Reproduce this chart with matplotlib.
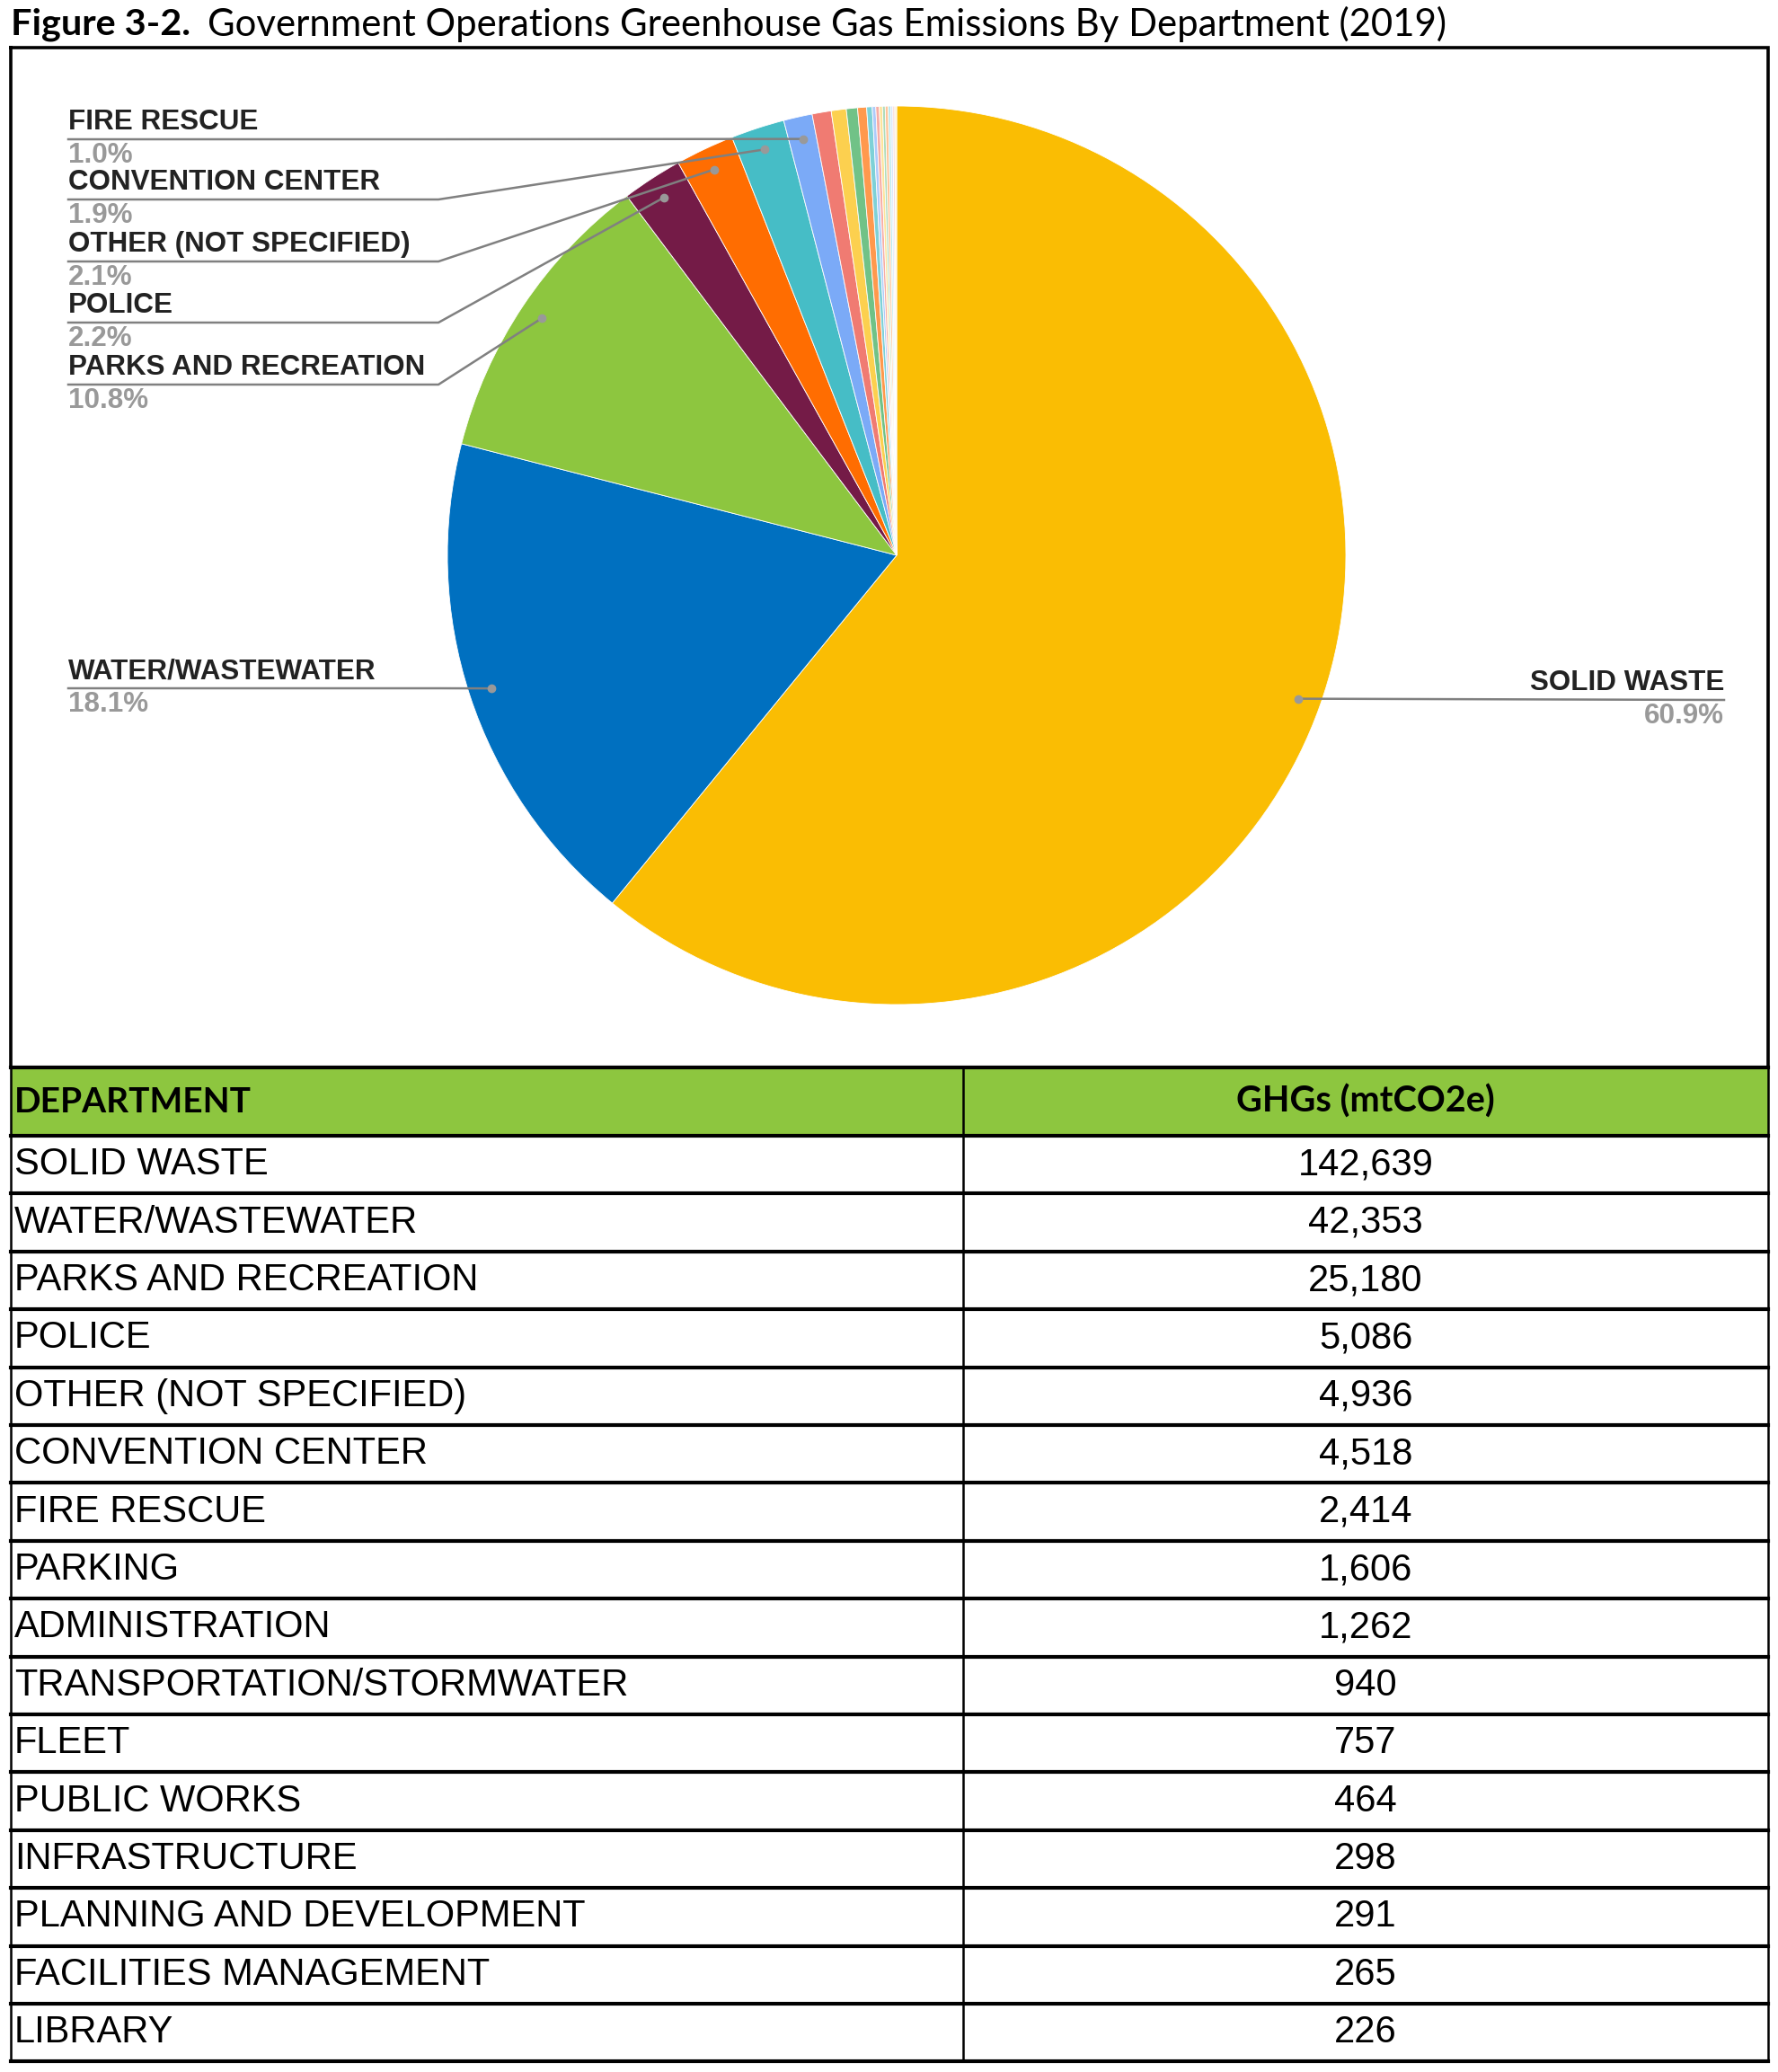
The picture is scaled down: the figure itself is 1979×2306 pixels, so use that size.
import matplotlib
matplotlib.use("Agg")
import matplotlib.pyplot as plt
import numpy as np

# data
departments = ["SOLID WASTE", "WATER/WASTEWATER", "PARKS AND RECREATION", "POLICE",
               "OTHER (NOT SPECIFIED)", "CONVENTION CENTER", "FIRE RESCUE", "PARKING",
               "ADMINISTRATION", "TRANSPORTATION/STORMWATER", "FLEET", "PUBLIC WORKS",
               "INFRASTRUCTURE", "PLANNING AND DEVELOPMENT", "FACILITIES MANAGEMENT", "LIBRARY"]
ghgs = [142639, 42353, 25180, 5086, 4936, 4518, 2414, 1606, 1262, 940, 757, 464, 298, 291, 265, 226]
# small unlabelled slices in the pie that are not listed in the table (estimated)
extra_values = [260, 200, 180, 160, 150]

colors = ['#FABD03', '#0070C0', '#8DC63F', '#741B47', '#FF6D01', '#46BDC6', '#7BAAF7',
          '#F07B72', '#FCD04F', '#71C287', '#FF994D', '#7ED1D7', '#AECBFA', '#F7ADA6',
          '#FDE49B', '#AEDCBA', '#FFC599', '#B5E8EB', '#D7E5FC', '#FBD6D3', '#FEF1CD']

# labelled slices on the left (index, y of leader line in px)
left_labels = [(6, 155), (5, 222), (4, 291), (3, 359), (2, 428), (1, 766)]
right_label = (0, 779)

W, H = 1979, 2306
fig = plt.figure(figsize=(W / 100, H / 100), dpi=100)

# pie
cx, cy, R = 998, 618, 500
axp = fig.add_axes([(cx - R) / W, 1 - (cy + R) / H, 2 * R / W, 2 * R / H])
values = ghgs + extra_values
wedges, _ = axp.pie(values, colors=colors, startangle=90, counterclock=False,
                    wedgeprops=dict(edgecolor='white', linewidth=0.6))
axp.set_xlim(-1, 1)
axp.set_ylim(-1, 1)
axp.set_aspect('auto')
axp.axis('off')
total = sum(values)

# overlay in pixel coords
ax = fig.add_axes([0, 0, 1, 1])
ax.set_xlim(0, W)
ax.set_ylim(H, 0)
ax.axis('off')

fig.text(12 / W, 1 - 27 / H, "Figure 3-2.", fontfamily='Lato', fontweight='bold',
         fontsize=29.8, va='center', ha='left')
fig.text(231 / W, 1 - 27 / H, "Government Operations Greenhouse Gas Emissions By Department (2019)",
         fontfamily='Lato', fontsize=30.2, va='center', ha='left')

# chart box
ax.plot([12, 1968, 1968, 12, 12], [53, 53, 1188, 1188, 53], color='black', lw=2.6,
        solid_joinstyle='miter')


def dot_pos(i):
    w = wedges[i]
    th = np.deg2rad((w.theta1 + w.theta2) / 2)
    return cx + 0.95 * R * np.cos(th), cy - 0.95 * R * np.sin(th)


lab_font = dict(fontfamily='Liberation Sans', fontweight='bold', fontsize=22.6)
for i, yl in left_labels:
    dx, dy = dot_pos(i)
    ax.plot([76, 488, dx], [yl, yl, dy], color='#808080', lw=1.8, zorder=5)
    ax.plot(dx, dy, 'o', color='#999999', ms=6, zorder=6)
    ax.text(76, yl - 4, departments[i], color='#222222', va='bottom', ha='left', **lab_font)
    ax.text(76, yl + 3, "%.1f%%" % (100 * values[i] / total), color='#999999',
            va='top', ha='left', **lab_font)

i, yl = right_label
dx, dy = dot_pos(i)
ax.plot([dx, 1919], [dy, yl], color='#808080', lw=1.8, zorder=5)
ax.plot(dx, dy, 'o', color='#999999', ms=6, zorder=6)
ax.text(1919, yl - 4, departments[i], color='#222222', va='bottom', ha='right', **lab_font)
ax.text(1919, yl + 3, "%.1f%%" % (100 * values[i] / total), color='#999999',
        va='top', ha='right', **lab_font)

# table
t_left, t_mid, t_right = 12, 1072, 1968
t_top, head_h, row_h = 1188, 76, 64.4
ax.fill_between([t_left, t_right], t_top, t_top + head_h, color='#8DC63F', zorder=1)
ax.text(t_left + 4, t_top + head_h / 2, "DEPARTMENT", fontfamily='Lato', fontweight='bold',
        fontsize=28, va='center', ha='left')
ax.text((t_mid + t_right) / 2, t_top + head_h / 2, "GHGs (mtCO2e)", fontfamily='Lato',
        fontweight='bold', fontsize=28.5, va='center', ha='center')

t_bottom = t_top + head_h + row_h * len(departments)
for k, (name, val) in enumerate(zip(departments, ghgs)):
    yc = t_top + head_h + row_h * (k + 0.5)
    ax.text(t_left + 4, yc, name, fontfamily='Liberation Sans', fontsize=30,
            va='center', ha='left')
    ax.text((t_mid + t_right) / 2, yc, f"{val:,}", fontfamily='Liberation Sans',
            fontsize=30, va='center', ha='center')

for k in range(len(departments) + 1):
    y = t_top + head_h + row_h * k
    ax.plot([t_left, t_right], [y, y], color='black', lw=3.0, zorder=3)
ax.plot([t_left, t_right], [t_top, t_top], color='black', lw=3.0, zorder=3)
for x in (t_left, t_mid, t_right):
    ax.plot([x, x], [t_top, t_bottom], color='black', lw=1.8, zorder=3)

fig.savefig('out.png', dpi=100)
